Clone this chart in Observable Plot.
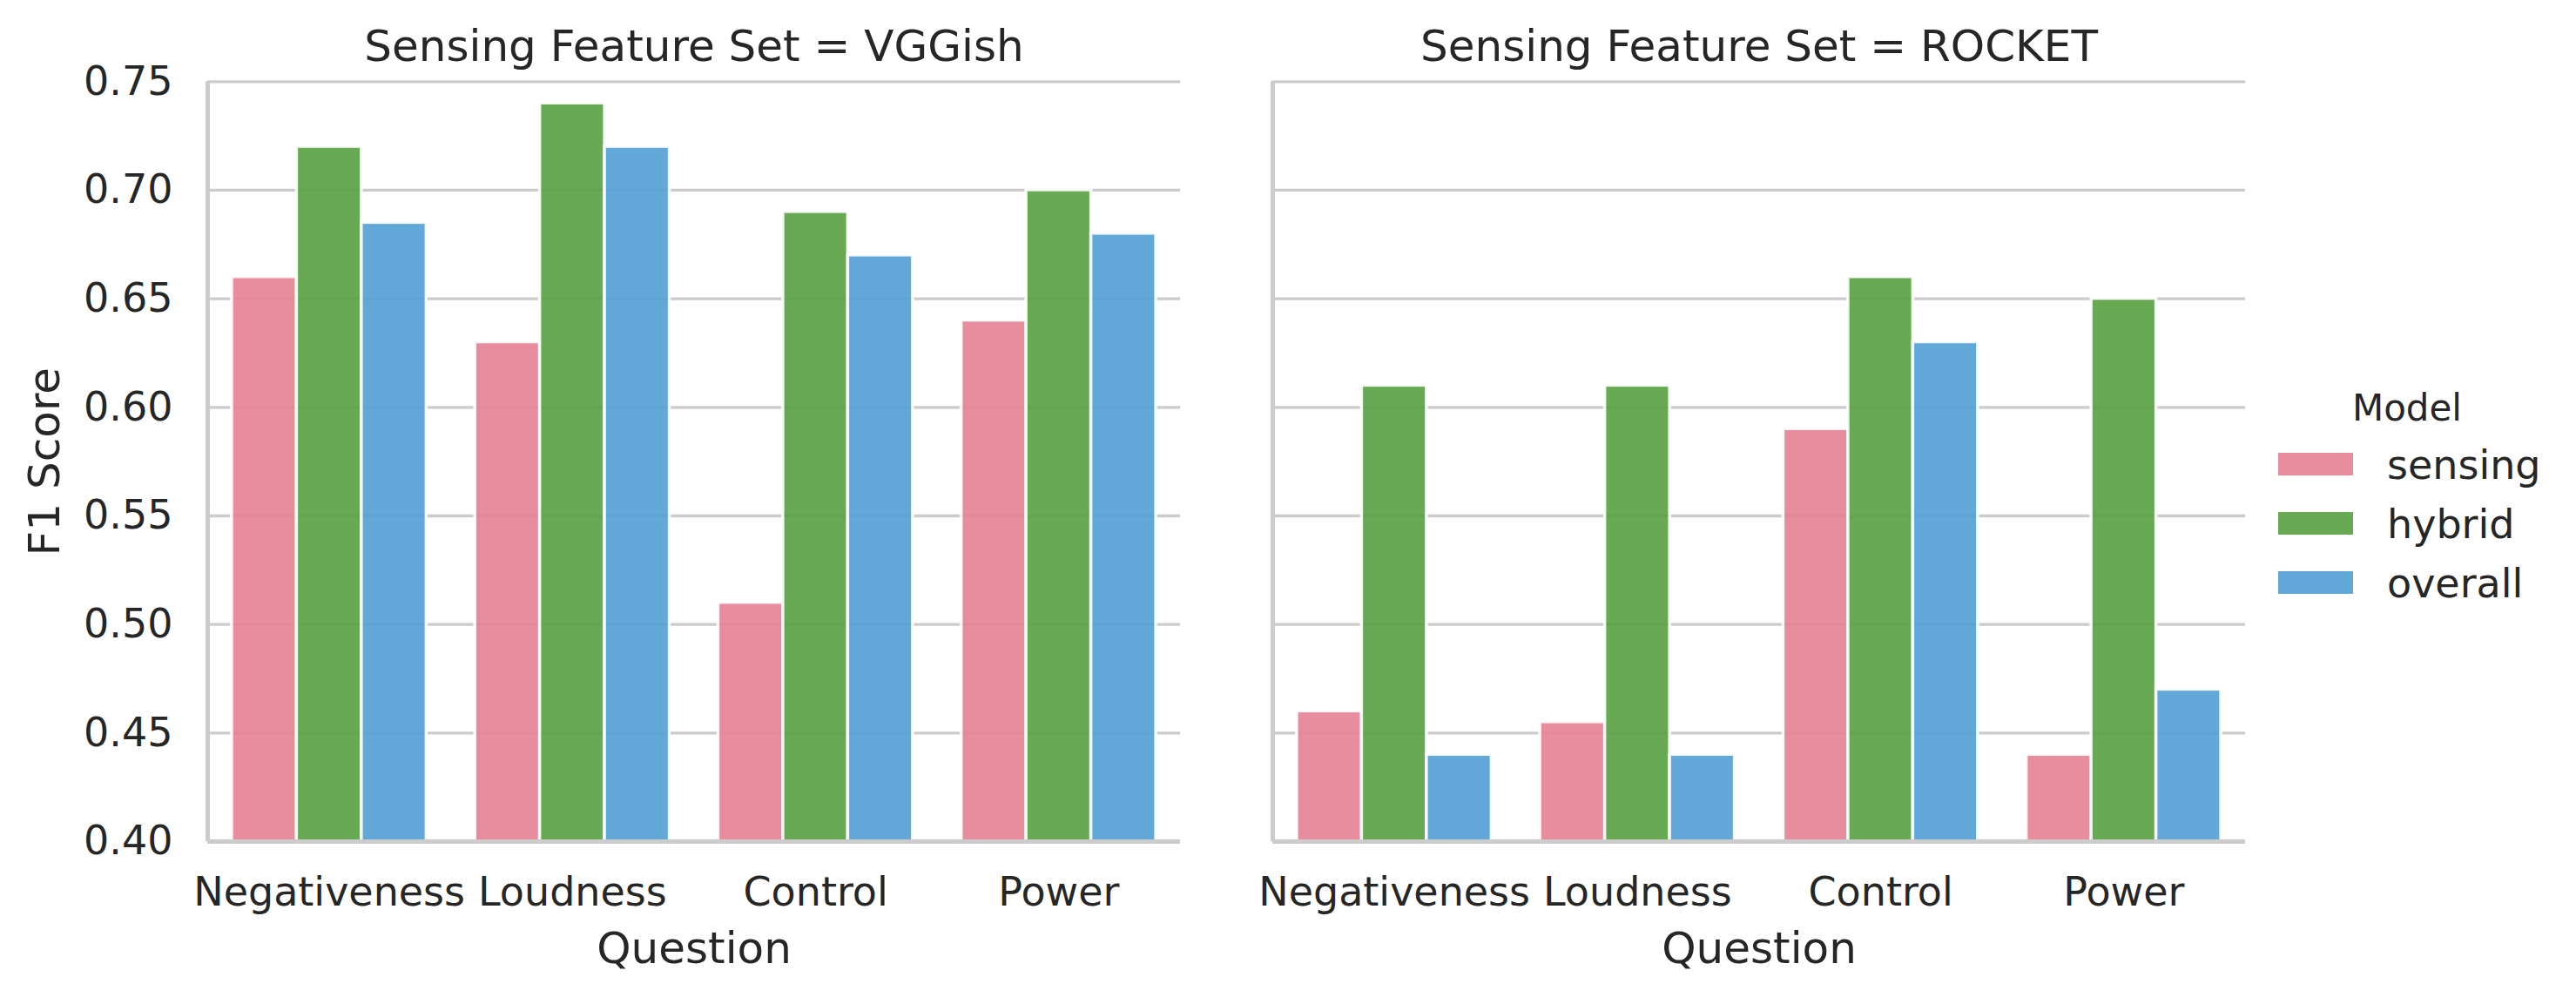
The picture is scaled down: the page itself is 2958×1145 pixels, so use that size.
<!DOCTYPE html>
<html>
<head>
<meta charset="utf-8">
<script src="https://cdn.jsdelivr.net/npm/d3@7"></script>
<script src="https://cdn.jsdelivr.net/npm/@observablehq/plot@0.6"></script>
<style>
html, body { margin: 0; padding: 0; background: #fff; }
#chart { position: relative; width: 2958px; height: 1145px; font-family: "DejaVu Sans", sans-serif; }
#chart svg { position: absolute; left: 0; top: 0; }
</style>
</head>
<body>
<div id="chart"></div>
<script>
// ---- data ----
const questions = ["Negativeness", "Loudness", "Control", "Power"];
const models = ["sensing", "hybrid", "overall"];
const modelColors = ["#e68193", "#58a141", "#51a0d6"];
const featureSets = ["VGGish", "ROCKET"];
const yTicks = [0.40, 0.45, 0.50, 0.55, 0.60, 0.65, 0.70, 0.75];

const vggishSensing = [0.66, 0.63, 0.51, 0.64];
const vggishHybrid  = [0.72, 0.74, 0.69, 0.70];
const vggishOverall = [0.685, 0.72, 0.67, 0.68];
const rocketSensing = [0.46, 0.455, 0.59, 0.44];
const rocketHybrid  = [0.61, 0.61, 0.66, 0.65];
const rocketOverall = [0.44, 0.44, 0.63, 0.47];

const seriesBySet = {
  VGGish: [vggishSensing, vggishHybrid, vggishOverall],
  ROCKET: [rocketSensing, rocketHybrid, rocketOverall]
};

const data = featureSets.flatMap(set =>
  models.flatMap((model, mi) =>
    questions.map((question, qi) => ({set, model, question, qi, mi, value: seriesBySet[set][mi][qi]}))
  )
);

// seaborn-style dodge: group width 0.8, split across models
const groupWidth = 0.8;
const barW = groupWidth / models.length;
const xTickPositions = questions.map((q, i) => i);

const chart = Plot.plot({
  width: 2958,
  height: 1145,
  marginLeft: 237.5,
  marginRight: 380,
  marginTop: 93.3,
  marginBottom: 179,
  style: {fontFamily: "'DejaVu Sans', sans-serif", fontSize: "46px", color: "#262626", background: "white", overflow: "visible"},
  fx: {domain: featureSets, paddingInner: 0.0863, paddingOuter: 0, label: null},
  x: {domain: [-0.5, questions.length - 0.5]},
  y: {domain: [yTicks[0], yTicks[yTicks.length - 1]]},
  color: {domain: models, range: modelColors},
  marks: [
    Plot.gridY(yTicks, {stroke: "#cccccc", strokeOpacity: 1, strokeWidth: 3.3}),
    Plot.rectY(data, {
      fx: "set",
      x1: d => d.qi - groupWidth / 2 + d.mi * barW,
      x2: d => d.qi - groupWidth / 2 + (d.mi + 1) * barW,
      y1: 0,
      y2: "value",
      fill: "model",
      fillOpacity: 0.9,
      stroke: "white",
      strokeOpacity: 0.9,
      strokeWidth: 3.5,
      clip: true
    }),
    Plot.ruleX([-0.5], {stroke: "#cccccc", strokeWidth: 5}),
    Plot.ruleY([yTicks[0]], {stroke: "#cccccc", strokeWidth: 5}),
    Plot.axisY(yTicks, {tickFormat: d3.format(".2f"), tickSize: 0, tickPadding: 40, fontSize: 46, label: null}),
    Plot.axisX(xTickPositions, {tickFormat: i => questions[i], tickSize: 0, tickPadding: 41, fontSize: 46, label: null}),
    Plot.axisFx({anchor: "top", tickFormat: d => `Sensing Feature Set = ${d}`, tickSize: 0, tickPadding: 40, lineAnchor: "middle", fontSize: 50, label: null}),
    Plot.text(featureSets, {fx: d => d, frameAnchor: "bottom", text: () => "Question", lineAnchor: "top", dy: 103.5, fontSize: 50}),
    Plot.text([featureSets[0]], {fx: d => d, frameAnchor: "left", text: () => "F1 Score", rotate: -90, textAnchor: "middle", lineAnchor: "middle", dx: -187, fontSize: 50})
  ]
});

document.getElementById("chart").appendChild(chart);

// ---- legend ----
const leg = d3.select("#chart").append("svg")
  .attr("width", 2958).attr("height", 1145)
  .style("font-family", "'DejaVu Sans', sans-serif");
leg.append("text")
  .attr("x", 2764).attr("y", 483)
  .attr("text-anchor", "middle")
  .attr("font-size", 42)
  .attr("fill", "#262626")
  .text("Model");
const items = leg.selectAll("g.item").data(models).join("g")
  .attr("class", "item")
  .attr("transform", (d, i) => `translate(0, ${i * 68})`);
items.append("rect")
  .attr("x", 2615).attr("y", 519).attr("width", 88).attr("height", 28)
  .attr("fill", (d, i) => modelColors[i]).attr("fill-opacity", 0.9)
  .attr("stroke", "white").attr("stroke-width", 2);
items.append("text")
  .attr("x", 2741).attr("y", 550)
  .attr("font-size", 46)
  .attr("fill", "#262626")
  .text(d => d);
</script>
</body>
</html>
